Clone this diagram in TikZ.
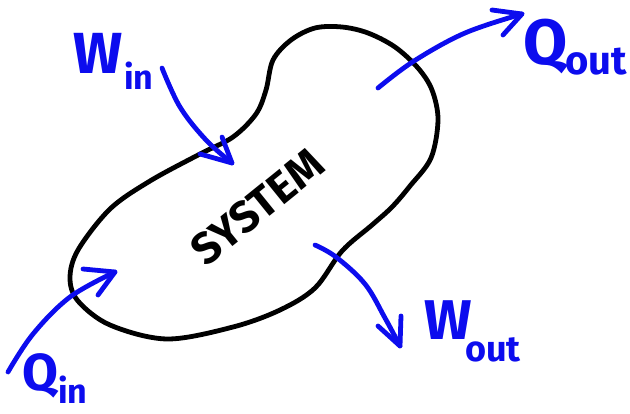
\documentclass[tikz,border=0pt]{standalone}
\usepackage{fontspec}
\newfontfamily\hand{Fira Sans}
\definecolor{pen}{RGB}{12,12,238}
\begin{document}
\begin{tikzpicture}[x=1pt,y=-1pt,
  stroke/.style={line width=4.8pt,line cap=round,line join=round},
  blobline/.style={stroke,draw=black},
  flow/.style={stroke,draw=pen},
  lbl/.style={text=pen,font=\hand\bfseries,inner sep=0pt},
  sys/.style={text=black,font=\hand,inner sep=0pt}]
\useasboundingbox (0,0) rectangle (630,414);
% system boundary
\draw[blobline] plot[smooth cycle,tension=0.55] coordinates {
  (315,28) (342,27) (368,33) (395,47) (418,68) (432,90) (438,120) (431,158)
  (410,186) (392,207) (372,225) (342,251) (315,288) (280,310) (233,327)
  (167,339) (110,325) (78,301) (70,278) (78,250) (110,209) (150,181)
  (200,154) (233,137) (256,114) (266,90) (273,60) (291,40)};
\node[sys,rotate=39,font=\hand\bfseries\fontsize{44}{44}\selectfont] (system) at (257,207) {SYSTEM};
% W in
\coordinate (wint) at (232,163);
\draw[flow] plot[smooth,tension=0.6] coordinates {(162,68) (180,107) (206,140) (wint)};
\draw[flow] (222,137) -- (wint) -- (200,154);
\node[lbl,font=\hand\bfseries\fontsize{58}{58}\selectfont] (W1) at (98,53) {W};
\node[lbl,font=\hand\bfseries\fontsize{34}{34}\selectfont] (in1) at (139,76) {in};
% Q out
\coordinate (qoutt) at (522,14);
\draw[flow] plot[smooth,tension=0.6] coordinates {(378,88) (414,61) (465,33) (qoutt)};
\draw[flow] (492,10) -- (qoutt) -- (503,35);
\node[lbl,font=\hand\bfseries\fontsize{64}{64}\selectfont] (Q2) at (546,46) {Q};
\node[lbl,font=\hand\bfseries\fontsize{40}{40}\selectfont] (out2) at (596,62) {out};
% Q in
\coordinate (qint) at (115,272);
\draw[flow] plot[smooth,tension=0.6] coordinates {(8,372) (33,334) (70,297) (qint)};
\draw[flow] (83,269) -- (qint) -- (98,295);
\node[lbl,font=\hand\bfseries\fontsize{52}{52}\selectfont] (Q3) at (40,376) {Q};
\node[lbl,font=\hand\bfseries\fontsize{34}{34}\selectfont] (in3) at (73,390) {in};
% W out
\coordinate (woutt) at (400,346);
\draw[flow] plot[smooth,tension=0.6] coordinates {(315,245) (336,257) (365,284) (385,318) (woutt)};
\draw[flow] (378,326) -- (woutt) -- (401,316);
\node[lbl,font=\hand\bfseries\fontsize{56}{56}\selectfont] (W4) at (448,320) {W};
\node[lbl,font=\hand\bfseries\fontsize{36}{36}\selectfont] (out4) at (493,350) {out};
\end{tikzpicture}
\end{document}
